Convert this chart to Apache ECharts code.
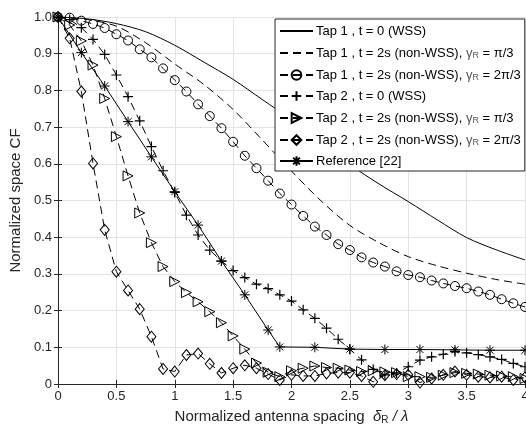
<!DOCTYPE html>
<html>
<head>
<meta charset="utf-8">
<script src="https://cdn.jsdelivr.net/npm/echarts@6/dist/echarts.min.js"></script>
<style>
  html, body { margin: 0; padding: 0; background: #fff; overflow: hidden; }
  #chart { width: 526px; height: 430px; }
</style>
</head>
<body>
<div id="chart"></div>
<script>
// Antenna spacing samples (delta_R / lambda)
const spacingFine = [0, 0.1, 0.2, 0.3, 0.4, 0.5, 0.6, 0.7, 0.8, 0.9, 1.0, 1.1, 1.2, 1.3, 1.4, 1.5, 1.6, 1.7, 1.8, 1.9, 2.0,
  2.1, 2.2, 2.3, 2.4, 2.5, 2.6, 2.7, 2.8, 2.9, 3.0, 3.1, 3.2, 3.3, 3.4, 3.5, 3.6, 3.7, 3.8, 3.9, 4.0];
const spacingCoarse = [0, 0.25, 0.5, 0.75, 1.0, 1.25, 1.5, 1.75, 2.0, 2.25, 2.5, 2.75, 3.0, 3.25, 3.5, 3.75, 4.0];
const spacingRef = [0, 0.2, 0.4, 0.6, 0.8, 1.0, 1.2, 1.4, 1.6, 1.8, 1.9, 2.2, 2.5, 2.8, 3.1, 3.4, 3.7, 4.0];

// Normalized space correlation values
const tap1Wss = [1.0, 0.995, 0.982, 0.96, 0.923, 0.877, 0.83, 0.775, 0.72, 0.66, 0.598, 0.545, 0.497, 0.447, 0.399, 0.366, 0.338];
const tap1Pi3 = [1.0, 0.993, 0.975, 0.93, 0.872, 0.816, 0.748, 0.665, 0.58, 0.50, 0.432, 0.385, 0.347, 0.322, 0.302, 0.285, 0.272];
const tap1TwoPi3 = [1.0, 0.998, 0.99, 0.981, 0.970, 0.953, 0.936, 0.912, 0.890, 0.860, 0.828, 0.797, 0.762, 0.730, 0.697, 0.660,
  0.622, 0.588, 0.554, 0.519, 0.489, 0.458, 0.429, 0.406, 0.381, 0.365, 0.345, 0.331, 0.320, 0.307, 0.297, 0.291, 0.282,
  0.274, 0.267, 0.261, 0.252, 0.243, 0.231, 0.220, 0.210];
const tap2Wss = [1.0, 0.993, 0.971, 0.939, 0.898, 0.842, 0.783, 0.717, 0.647, 0.581, 0.522, 0.46, 0.406, 0.365, 0.335, 0.309,
  0.290, 0.272, 0.260, 0.243, 0.226, 0.202, 0.179, 0.152, 0.122, 0.095, 0.066, 0.04, 0.025, 0.03, 0.047, 0.065, 0.074,
  0.081, 0.088, 0.085, 0.08, 0.074, 0.067, 0.056, 0.047];
const tap2Pi3 = [1.0, 0.978, 0.935, 0.869, 0.778, 0.674, 0.567, 0.466, 0.385, 0.320, 0.279, 0.249, 0.224, 0.197, 0.167, 0.131,
  0.095, 0.057, 0.032, 0.020, 0.036, 0.043, 0.049, 0.045, 0.043, 0.038, 0.034, 0.036, 0.033, 0.031, 0.020, 0.020, 0.018,
  0.024, 0.031, 0.029, 0.027, 0.024, 0.022, 0.020, 0.015];
const tap2TwoPi3 = [1.0, 0.942, 0.797, 0.601, 0.420, 0.306, 0.255, 0.204, 0.129, 0.041, 0.034, 0.079, 0.083, 0.055, 0.030, 0.043,
  0.051, 0.043, 0.027, 0.011, 0.025, 0.022, 0.022, 0.029, 0.031, 0.031, 0.022, 0.006, 0.024, 0.027, 0.025, 0.004, 0.015,
  0.025, 0.034, 0.025, 0.020, 0.018, 0.020, 0.011, 0.018];
const reference22 = [1.0, 0.903, 0.812, 0.715, 0.619, 0.524, 0.433, 0.335, 0.243, 0.147, 0.101, 0.100, 0.095, 0.094, 0.094,
  0.093, 0.092, 0.092];

const names = [
  'Tap 1 , t = 0 (WSS)',
  'Tap 1 , t = 2s (non-WSS), gR = pi/3',
  'Tap 1 , t = 2s (non-WSS), gR = 2pi/3',
  'Tap 2 , t = 0 (WSS)',
  'Tap 2 , t = 2s (non-WSS), gR = pi/3',
  'Tap 2 , t = 2s (non-WSS), gR = 2pi/3',
  'Reference [22]'
];
const legendRich = {
  'Tap 1 , t = 0 (WSS)': 'Tap 1 , t = 0 (WSS)',
  'Tap 1 , t = 2s (non-WSS), gR = pi/3': 'Tap 1 , t = 2s (non-WSS), {g|γ}{s|R}{n| = π/3}',
  'Tap 1 , t = 2s (non-WSS), gR = 2pi/3': 'Tap 1 , t = 2s (non-WSS), {g|γ}{s|R}{n| = 2π/3}',
  'Tap 2 , t = 0 (WSS)': 'Tap 2 , t = 0 (WSS)',
  'Tap 2 , t = 2s (non-WSS), gR = pi/3': 'Tap 2 , t = 2s (non-WSS), {g|γ}{s|R}{n| = π/3}',
  'Tap 2 , t = 2s (non-WSS), gR = 2pi/3': 'Tap 2 , t = 2s (non-WSS), {g|γ}{s|R}{n| = 2π/3}',
  'Reference [22]': 'Reference [22]'
};

const pairs = (xs, ys) => xs.map((x, i) => [x, ys[i]]);

const INK = '#000';
const AXIS = '#262626';
const GRIDC = '#e3e3e3';
const FONT = 'Liberation Sans, Arial, Helvetica, sans-serif';

const plusPath = 'path://M0,-5L0,5M-5,0L5,0';
const starPath = 'path://M0,-5L0,5M-5,0L5,0M-3.5,-3.5L3.5,3.5M-3.5,3.5L3.5,-3.5';
const hollow = { color: 'rgba(0,0,0,0)', borderColor: INK, borderWidth: 1 };
const dashed = [8, 5];

function lineSeries(name, data, opts) {
  return Object.assign({
    name: name,
    type: 'line',
    data: data,
    symbol: 'none',
    animation: false,
    lineStyle: { color: INK, width: 1, type: 'solid' },
    itemStyle: { color: INK },
    emphasis: { disabled: true }
  }, opts);
}

const series = [
  lineSeries(names[0], pairs(spacingCoarse, tap1Wss), { smooth: 0.3 }),
  lineSeries(names[1], pairs(spacingCoarse, tap1Pi3), { smooth: 0.3, lineStyle: { color: INK, width: 1, type: dashed } }),
  lineSeries(names[2], pairs(spacingFine, tap1TwoPi3), {
    symbol: 'circle', symbolSize: 9, itemStyle: hollow,
    lineStyle: { color: INK, width: 1, type: dashed }
  }),
  lineSeries(names[3], pairs(spacingFine, tap2Wss), {
    symbol: plusPath, symbolSize: 10, itemStyle: { color: 'rgba(0,0,0,0)', borderColor: INK, borderWidth: 1.2 },
    lineStyle: { color: INK, width: 1, type: dashed }
  }),
  lineSeries(names[4], pairs(spacingFine, tap2Pi3), {
    symbol: 'triangle', symbolRotate: -90, symbolSize: 10, itemStyle: hollow,
    lineStyle: { color: INK, width: 1, type: dashed }
  }),
  lineSeries(names[5], pairs(spacingFine, tap2TwoPi3), {
    symbol: 'diamond', symbolSize: [9, 11], itemStyle: hollow,
    lineStyle: { color: INK, width: 1, type: dashed }
  }),
  lineSeries(names[6], pairs(spacingRef, reference22), {
    symbol: starPath, symbolSize: 10, itemStyle: { color: 'rgba(0,0,0,0)', borderColor: INK, borderWidth: 1 }
  })
];

// Plain curves get a legend sample without a marker
const legendData = names.map((n, i) => (i < 2 ? { name: n, itemStyle: { opacity: 0 } } : { name: n }));

const chart = echarts.init(document.getElementById('chart'), null, { renderer: 'canvas' });
chart.setOption({
  backgroundColor: '#fff',
  animation: false,
  textStyle: { fontFamily: FONT },
  grid: { left: 58, top: 17, right: 1, bottom: 46, containLabel: false, outerBoundsMode: 'none' },
  legend: {
    orient: 'vertical',
    left: 275,
    top: 19,
    data: legendData,
    itemWidth: 33,
    itemHeight: 12,
    itemGap: 7,
    padding: [5, 4, 3, 4],
    backgroundColor: '#fff',
    borderColor: AXIS,
    borderWidth: 1,
    borderRadius: 0,
    selectedMode: false,
    formatter: n => legendRich[n],
    textStyle: {
      color: INK, fontSize: 13, lineHeight: 14, fontFamily: FONT, padding: [0, 0, 0, -2],
      rich: {
        g: { fontSize: 13, lineHeight: 14, color: '#555', fontFamily: FONT },
        s: { fontSize: 9, lineHeight: 8, color: '#555', verticalAlign: 'bottom', padding: [6, 0, 0, 0] },
        n: { fontSize: 13, lineHeight: 14, color: INK, fontFamily: FONT }
      }
    }
  },
  xAxis: [{
    type: 'value', min: 0, max: 4, interval: 0.5,
    name: 'Normalized antenna spacing  {d|δ}{s|R}{d| / λ}',
    nameLocation: 'middle', nameGap: 20,
    nameTextStyle: {
      color: AXIS, fontSize: 15, lineHeight: 16, fontFamily: FONT,
      rich: {
        d: { fontSize: 15, lineHeight: 16, color: AXIS, fontStyle: 'italic' },
        s: { fontSize: 10, lineHeight: 9, color: AXIS, verticalAlign: 'bottom', padding: [7, 0, 0, 0] }
      }
    },
    axisLine: { show: true, onZero: false, lineStyle: { color: AXIS, width: 1 } },
    axisTick: { show: true, inside: true, length: 4, lineStyle: { color: AXIS } },
    axisLabel: { color: AXIS, fontSize: 13, margin: 6, fontFamily: FONT },
    splitLine: { show: true, lineStyle: { color: GRIDC, width: 1 } }
  }, {
    type: 'value', min: 0, max: 4, interval: 0.5, position: 'top',
    axisLine: { show: true, lineStyle: { color: AXIS, width: 1 } },
    axisTick: { show: true, inside: true, length: 4, lineStyle: { color: AXIS } },
    axisLabel: { show: false },
    splitLine: { show: false }
  }],
  yAxis: [{
    type: 'value', min: 0, max: 1, interval: 0.1,
    name: 'Normalized space CF',
    nameLocation: 'middle', nameGap: 32,
    nameTextStyle: { color: AXIS, fontSize: 15, fontFamily: FONT },
    axisLine: { show: true, lineStyle: { color: AXIS, width: 1 } },
    axisTick: { show: true, inside: true, length: 4, lineStyle: { color: AXIS } },
    axisLabel: {
      color: AXIS, fontSize: 13, margin: 6, fontFamily: FONT,
      formatter: v => (v === 0 ? '0' : v.toFixed(1))
    },
    splitLine: { show: true, lineStyle: { color: GRIDC, width: 1 } }
  }, {
    type: 'value', min: 0, max: 1, interval: 0.1, position: 'right',
    axisLine: { show: true, lineStyle: { color: AXIS, width: 1 } },
    axisTick: { show: true, inside: true, length: 4, lineStyle: { color: AXIS } },
    axisLabel: { show: false },
    splitLine: { show: false }
  }],
  series: series
});
</script>
</body>
</html>
